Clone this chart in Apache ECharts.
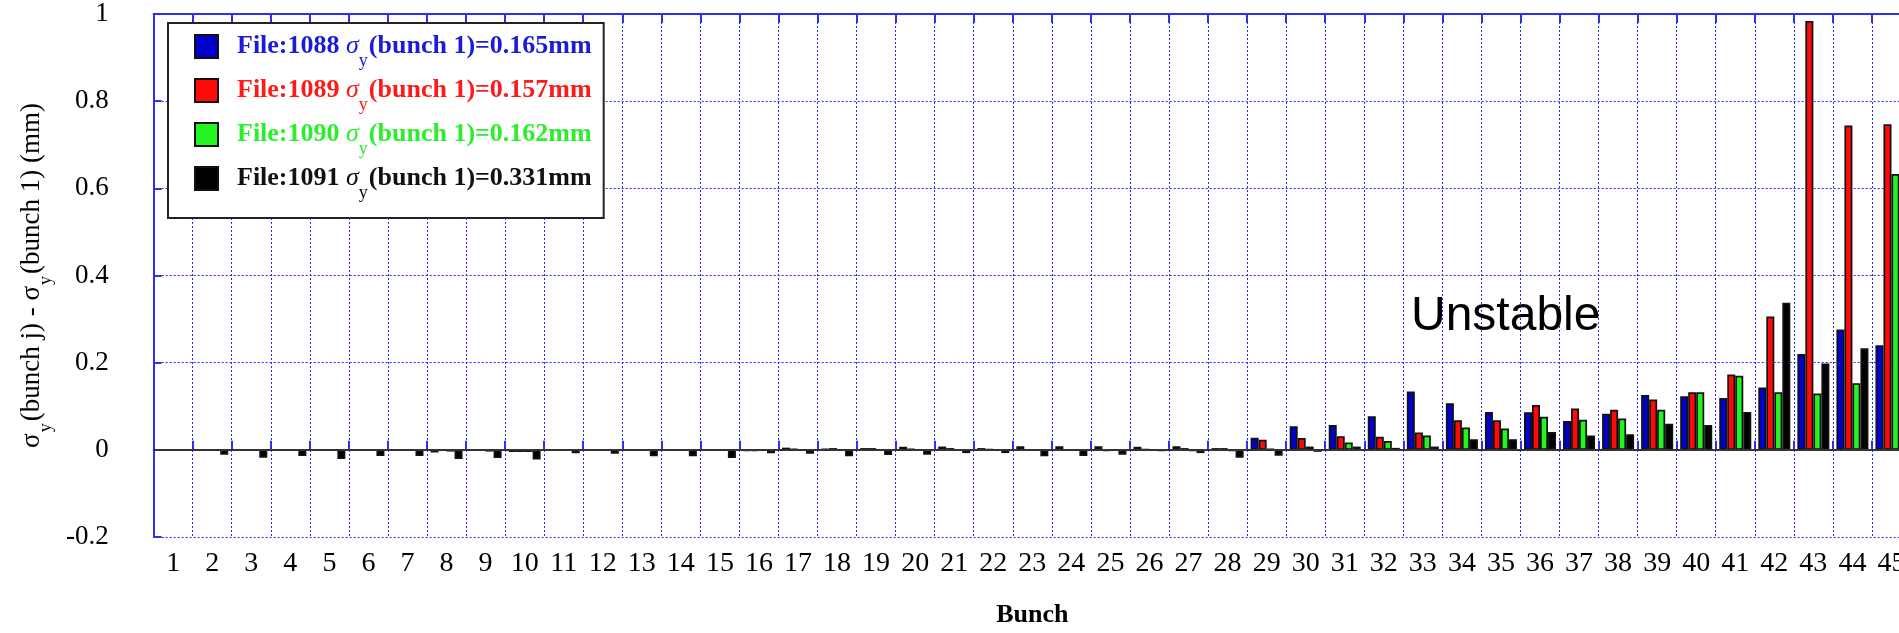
<!DOCTYPE html>
<html>
<head>
<meta charset="utf-8">
<script src="https://cdn.jsdelivr.net/npm/echarts@6/dist/echarts.min.js"></script>
<style>
  html, body { margin: 0; padding: 0; background: #ffffff; overflow: hidden; }
  /* the plot runs a little past the right edge of the window */
  #chart { width: 1911px; height: 633px; }
</style>
</head>
<body>
<div id="chart"></div>
<script>
// Bunch numbers along the x axis
const bunches = ['1','2','3','4','5','6','7','8','9','10','11','12','13','14','15',
  '16','17','18','19','20','21','22','23','24','25','26','27','28','29','30',
  '31','32','33','34','35','36','37','38','39','40','41','42','43','44','45'];

// Data files and their bunch-1 vertical beam size (mm)
const fileIds = ['1088', '1089', '1090', '1091'];
const sigmaBunch1 = ['0.165', '0.157', '0.162', '0.331'];

// sigma_y(bunch j) - sigma_y(bunch 1), mm
const file1088 = [0, -0.001, -0.002, -0.001, -0.002, -0.001, -0.001, -0.006, -0.002, -0.005,
  -0.002, -0.002, -0.002, -0.001, -0.001, -0.003, 0.005, 0.002, 0.004, 0.007,
  0.0075, 0.004, 0.008, 0.008, 0.008, 0.007, 0.008, 0.004, 0.028, 0.054,
  0.057, 0.077, 0.134, 0.107, 0.087, 0.086, 0.066, 0.083, 0.126, 0.123,
  0.119, 0.143, 0.220, 0.276, 0.240];
const file1089 = [0, -0.001, -0.002, -0.002, -0.002, -0.002, -0.002, -0.002, -0.002, -0.005,
  -0.002, -0.001, -0.002, -0.001, -0.002, -0.003, 0.002, 0.004, 0.004, 0.002,
  0.004, 0.001, -0.002, -0.002, -0.003, 0.001, 0.004, 0.004, 0.023, 0.027,
  0.031, 0.030, 0.040, 0.068, 0.068, 0.103, 0.095, 0.092, 0.1155, 0.132,
  0.173, 0.306, 0.984, 0.744, 0.747];
const file1090 = [0, -0.001, -0.001, -0.001, -0.001, -0.001, -0.001, -0.004, -0.004, -0.005,
  -0.001, -0.001, -0.001, -0.001, -0.001, -0.002, -0.001, -0.001, -0.001, -0.002,
  -0.001, -0.002, -0.002, -0.002, -0.002, -0.002, -0.003, -0.003, 0.002, 0.0075,
  0.0166, 0.020, 0.033, 0.051, 0.049, 0.076, 0.069, 0.072, 0.092, 0.132,
  0.170, 0.132, 0.129, 0.1525, 0.633];
const file1091 = [0, -0.011, -0.018, -0.014, -0.021, -0.014, -0.014, -0.021, -0.019, -0.022,
  -0.008, -0.009, -0.015, -0.015, -0.019, -0.008, -0.009, -0.015, -0.012, -0.011,
  -0.0075, -0.0075, -0.015, -0.014, -0.011, -0.003, -0.0075, -0.018, -0.0136, -0.0045,
  0.0075, 0.0045, 0.0075, 0.024, 0.024, 0.041, 0.033, 0.036, 0.060, 0.057,
  0.087, 0.3375, 0.198, 0.233, 0.668];

const fileValues = [file1088, file1089, file1090, file1091];
const barColors = ['#0000cd', '#ff0a0a', '#22f522', '#000000'];
const textColors = ['#1c1cd6', '#ff1a1a', '#2cef2c', '#111111'];

const SERIF = "'Liberation Serif', 'Times New Roman', serif";
const AXIS_BLUE = '#2f2ff0';
const GRID_BLUE = '#2626ff';

const seriesNames = fileIds.map(id => 'File:' + id);

const series = fileValues.map((vals, i) => ({
  name: seriesNames[i],
  type: 'bar',
  data: vals,
  barGap: '0%',
  barCategoryGap: '18%',
  itemStyle: { color: barColors[i], borderColor: '#111111', borderWidth: 1.7 }
}));

// dark reference line at zero difference
series[3].markLine = {
  silent: true,
  symbol: ['none', 'none'],
  label: { show: false },
  lineStyle: { color: '#333333', width: 2, type: 'solid' },
  data: [{ yAxis: 0 }]
};

const chart = echarts.init(document.getElementById('chart'), null, { renderer: 'canvas' });

chart.setOption({
  animation: false,
  backgroundColor: '#ffffff',
  grid: { left: 144, top: 14, right: 0, bottom: 88, containLabel: false },
  legend: {
    orient: 'vertical',
    left: 168,
    top: 23,
    padding: [0, 12, 16, 26],
    itemWidth: 23,
    itemHeight: 23,
    itemGap: -3,
    icon: 'rect',
    selectedMode: false,
    backgroundColor: '#ffffff',
    borderColor: '#222222',
    borderWidth: 2,
    data: seriesNames.map((n, i) => ({ name: n, textStyle: { color: textColors[i] } })),
    formatter: function (name) {
      const i = seriesNames.indexOf(name);
      return '{f|File:' + fileIds[i] + ' }{g|σ}{s|y}{m|(bunch 1)=' + sigmaBunch1[i] + 'mm}';
    },
    textStyle: {
      fontFamily: SERIF,
      fontSize: 26,
      fontWeight: 'bold',
      rich: {
        f: { fontFamily: SERIF, fontSize: 26, fontWeight: 'bold', lineHeight: 25, padding: [0, 0, 0, 14] },
        g: { fontFamily: SERIF, fontSize: 26, fontStyle: 'italic', fontWeight: 'normal', lineHeight: 25 },
        s: { fontFamily: SERIF, fontSize: 18, fontWeight: 'normal', lineHeight: 17, padding: [29, 1, 0, 0] },
        m: { fontFamily: SERIF, fontSize: 26, fontWeight: 'bold', lineHeight: 25 }
      }
    }
  },
  graphic: [{
    type: 'text',
    x: 1411,
    y: 317,
    z: 50,
    style: {
      text: 'Unstable',
      fontFamily: "'Liberation Sans', Arial, sans-serif",
      fontSize: 48,
      fill: '#000000',
      align: 'left',
      verticalAlign: 'middle'
    }
  }],
  xAxis: [{
    type: 'category',
    data: bunches,
    position: 'bottom',
    boundaryGap: true,
    name: 'Bunch',
    nameLocation: 'middle',
    nameGap: 65,
    nameTextStyle: { fontFamily: SERIF, fontSize: 26, fontWeight: 'bold', color: '#000000' },
    axisLine: { show: true, lineStyle: { color: AXIS_BLUE, width: 2 } },
    axisTick: { show: true, inside: true, length: 9, interval: 0, lineStyle: { color: AXIS_BLUE, width: 2 } },
    axisLabel: { show: true, interval: 0, margin: 13, fontFamily: SERIF, fontSize: 28, color: '#000000' },
    splitLine: { show: true, interval: 0, lineStyle: { color: GRID_BLUE, width: 1, type: [2, 2] } }
  }, {
    type: 'category',
    data: bunches,
    position: 'top',
    boundaryGap: true,
    axisLine: { show: true, lineStyle: { color: AXIS_BLUE, width: 2 } },
    axisTick: { show: true, inside: true, length: 9, interval: 0, lineStyle: { color: AXIS_BLUE, width: 2 } },
    axisLabel: { show: false },
    splitLine: { show: false }
  }],
  yAxis: {
    type: 'value',
    min: -0.2,
    max: 1,
    interval: 0.2,
    name: '{s|σ}{u|y}{t|(bunch j) - }{s|σ}{u|y}{t|(bunch 1) (mm)}',
    nameLocation: 'middle',
    nameRotate: 90,
    nameGap: 93,
    nameTextStyle: {
      fontFamily: SERIF,
      fontSize: 27,
      color: '#000000',
      rich: {
        s: { fontFamily: SERIF, fontSize: 27, lineHeight: 27 },
        t: { fontFamily: SERIF, fontSize: 27, lineHeight: 27 },
        u: { fontFamily: SERIF, fontSize: 18, lineHeight: 17, padding: [29, 2, 0, 1] }
      }
    },
    axisLine: { show: true, lineStyle: { color: AXIS_BLUE, width: 2 } },
    axisTick: { show: true, inside: true, length: 8, lineStyle: { color: AXIS_BLUE, width: 2 } },
    axisLabel: { show: true, margin: 45, fontFamily: SERIF, fontSize: 27, color: '#000000' },
    splitLine: { show: true, lineStyle: { color: GRID_BLUE, width: 1, type: [2, 2] } }
  },
  series: series
});
</script>
</body>
</html>
